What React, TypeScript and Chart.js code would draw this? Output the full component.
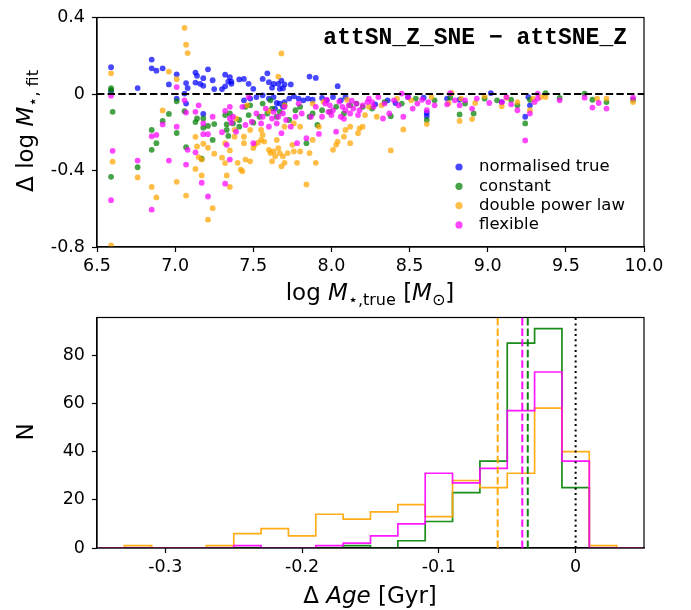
import React, { useEffect, useRef } from 'react';
import { Chart, registerables } from 'chart.js';

Chart.register(...registerables);

// ---------- scatter data: [log M_true, Δ log M_fit] ----------
const normalisedTrue: [number, number][] = [
  [6.59, 0.14], [6.59, 0.015], [6.76, 0.031], [6.85, 0.18], [6.85, 0.134], [6.88, 0.122], [6.92, 0.134],
  [6.96, 0.05], [7.01, 0.103], [7.01, -0.024], [7.07, 0.057], [7.08, 0.031], [7.06, 0.002], [7.07, -0.05],
  [7.13, 0.112], [7.14, 0.095], [7.13, 0.06], [7.16, 0.053], [7.18, 0.083], [7.18, 0.043], [7.21, 0.129],
  [7.24, 0.072], [7.25, 0.026], [7.3, 0.026], [7.32, 0.101], [7.32, 0.04], [7.34, 0.065], [7.36, 0.065],
  [7.36, 0.053], [7.18, -0.104], [7.35, 0.088], [7.41, 0.076], [7.44, 0.079], [7.47, 0.053], [7.5, 0.027],
  [7.56, 0.079], [7.59, 0.108], [7.6, 0.062], [7.62, 0.033], [7.63, 0.053], [7.66, 0.053], [7.67, 0.027],
  [7.68, 0.07], [7.69, 0.03], [7.7, 0.05], [7.74, 0.05], [7.86, 0.091], [7.9, 0.084], [8.04, 0.041],
  [7.44, -0.033], [7.48, -0.024], [7.52, -0.016], [7.56, -0.007], [7.6, -0.024], [7.63, -0.016], [7.65, -0.047],
  [7.67, -0.05], [7.7, -0.042], [7.73, -0.024], [7.76, -0.012], [7.79, -0.024], [7.82, -0.033], [7.85, -0.024],
  [7.88, -0.03], [7.94, -0.021], [7.97, -0.033], [8.01, -0.016], [8.06, -0.033], [8.09, -0.016], [7.64, -0.076],
  [7.69, -0.067], [8.61, -0.098], [8.61, -0.115], [8.28, -0.054], [8.36, -0.033], [8.49, -0.016], [8.59, -0.019],
  [8.74, -0.024], [8.82, -0.03], [9.02, 0.005], [9.09, -0.042], [8.41, -0.047], [9.24, -0.119], [9.26, -0.016],
  [9.27, -0.059],
];

const constantSfh: [number, number][] = [
  [6.59, 0.031], [6.59, 0.02], [6.6, -0.093], [6.59, -0.433], [6.76, -0.383], [6.85, -0.188], [6.85, -0.292],
  [6.88, -0.257], [6.92, -0.141], [6.96, -0.104], [7.01, -0.038], [7.01, -0.204], [7.06, -0.09], [7.07, -0.278],
  [7.13, -0.147], [7.14, -0.128], [7.18, -0.128], [7.18, -0.176], [7.21, -0.167], [7.25, -0.157], [7.24, -0.24],
  [7.17, -0.338], [7.32, -0.11], [7.33, -0.159], [7.35, -0.102], [7.34, -0.219], [7.33, -0.188], [7.37, -0.154],
  [7.41, -0.136], [7.45, -0.067], [7.47, -0.11], [7.5, -0.15], [7.54, -0.119], [7.59, -0.102], [7.62, -0.076],
  [7.65, -0.119], [7.67, -0.093], [7.7, -0.059], [7.73, -0.136], [7.77, -0.085], [7.8, -0.067], [7.84, -0.257],
  [7.86, -0.119], [7.88, -0.102], [7.91, -0.162], [7.94, -0.085], [7.99, -0.093], [8.03, -0.067], [8.08, -0.102],
  [8.12, -0.059], [8.16, -0.05], [8.2, -0.067], [7.56, -0.05], [7.61, -0.033], [7.48, -0.059], [7.41, -0.171],
  [8.38, -0.116], [8.61, -0.136], [8.82, -0.107], [8.91, -0.102], [8.26, -0.076], [8.34, -0.042], [8.45, -0.05],
  [8.54, -0.024], [8.66, -0.033], [8.76, -0.019], [8.855, -0.05], [8.98, -0.024], [9.06, -0.033], [9.15, -0.03],
  [9.19, -0.059], [9.24, -0.154], [9.27, -0.03], [9.37, 0.005], [9.46, -0.021], [9.62, 0.002], [9.67, -0.03],
  [9.76, -0.042], [9.93, -0.03],
];

const doublePowerLaw: [number, number][] = [
  [6.59, 0.108], [6.6, -0.354], [6.59, -0.792], [6.76, -0.436], [6.85, -0.486], [6.88, -0.541], [6.96, 0.117],
  [6.92, -0.086], [7.01, 0.077], [7.01, -0.459], [7.06, 0.346], [7.07, 0.258], [7.08, 0.214], [7.07, -0.531],
  [7.13, -0.224], [7.14, -0.274], [7.13, -0.392], [7.17, -0.426], [7.18, -0.26], [7.15, -0.33], [7.17, -0.343],
  [7.21, -0.281], [7.21, -0.657], [7.24, -0.597], [7.25, -0.312], [7.3, -0.333], [7.32, -0.257], [7.32, -0.361],
  [7.33, -0.426], [7.35, -0.295], [7.35, -0.486], [7.38, -0.188], [7.68, 0.212], [7.66, 0.091], [7.38, -0.223],
  [7.4, -0.36], [7.42, -0.395], [7.43, -0.404], [7.44, -0.257], [7.45, -0.343], [7.48, -0.352], [7.44, -0.223],
  [7.5, -0.283], [7.51, -0.266], [7.53, -0.254], [7.55, -0.24], [7.56, -0.214], [7.57, -0.249], [7.6, -0.292],
  [7.61, -0.309], [7.62, -0.352], [7.63, -0.3], [7.64, -0.326], [7.65, -0.24], [7.66, -0.283], [7.67, -0.309],
  [7.68, -0.378], [7.69, -0.326], [7.7, -0.36], [7.72, -0.309], [7.75, -0.266], [7.76, -0.3], [7.78, -0.36],
  [7.8, -0.3], [7.84, -0.473], [7.86, -0.309], [7.9, -0.36], [7.92, -0.171], [7.88, -0.24], [8.01, -0.292],
  [8.03, -0.266], [8.04, -0.249], [8.08, -0.223], [8.09, -0.188], [8.12, -0.257], [8.17, -0.205], [8.18, -0.18],
  [8.2, -0.171], [8.12, -0.171], [7.55, -0.188], [7.7, -0.171], [7.76, -0.154], [7.8, -0.171], [7.48, -0.188],
  [7.39, -0.128], [7.46, -0.059], [7.7, -0.06], [7.88, -0.05], [7.6, -0.09], [7.95, -0.04], [8.1, -0.03],
  [8.215, -0.11], [8.29, -0.119], [8.38, -0.295], [8.46, -0.185], [8.61, -0.157], [8.82, -0.141], [8.9, -0.131],
  [8.24, -0.067], [8.32, -0.059], [8.42, -0.024], [8.51, -0.033], [8.64, -0.016], [8.75, -0.047], [8.83, -0.024],
  [8.92, -0.047], [8.98, -0.012], [8.77, 0.005], [9.09, -0.064], [9.12, -0.02], [9.19, -0.042], [9.27, -0.085],
  [9.29, -0.024], [9.34, -0.016], [9.37, -0.016], [9.7, -0.024], [9.76, -0.024], [9.93, -0.042],
];

const flexibleSfh: [number, number][] = [
  [6.59, -0.009], [6.6, -0.297], [6.59, -0.555], [6.76, -0.348], [6.85, -0.221], [6.88, -0.214], [6.85, -0.605],
  [6.92, -0.159], [6.96, -0.348], [7.01, 0.036], [7.01, -0.171], [7.06, -0.033], [7.08, -0.292], [7.07, -0.369],
  [7.07, -0.097], [7.13, -0.093], [7.15, -0.059], [7.13, -0.305], [7.17, -0.464], [7.18, -0.154], [7.18, -0.21],
  [7.21, -0.21], [7.24, -0.119], [7.21, -0.536], [7.3, -0.2], [7.32, -0.088], [7.33, -0.266], [7.32, -0.469],
  [7.35, -0.128], [7.36, -0.15], [7.35, -0.067], [7.37, -0.119], [7.39, -0.197], [7.43, -0.067], [7.45, -0.162],
  [7.47, -0.016], [7.49, -0.145], [7.5, -0.257], [7.52, -0.102], [7.55, -0.154], [7.56, -0.119], [7.58, -0.076],
  [7.6, -0.171], [7.62, -0.128], [7.63, -0.093], [7.65, -0.154], [7.66, -0.119], [7.68, -0.205], [7.69, -0.102],
  [7.7, -0.067], [7.71, -0.136], [7.74, -0.171], [7.77, -0.119], [7.78, -0.257], [7.79, -0.05], [7.81, -0.102],
  [7.84, -0.231], [7.87, -0.119], [7.9, -0.067], [7.92, -0.209], [7.94, -0.119], [7.96, -0.05], [7.98, -0.093],
  [7.99, -0.059], [8.01, -0.085], [8.03, -0.197], [8.06, -0.119], [8.07, -0.067], [8.09, -0.085], [8.11, -0.059],
  [8.12, -0.102], [8.14, -0.076], [8.16, -0.05], [8.18, -0.085], [8.2, -0.059], [8.23, -0.042], [7.35, -0.343],
  [7.97, -0.03], [8.0, -0.11], [8.05, -0.04], [8.08, -0.13], [8.13, -0.035], [8.17, -0.11],
  [8.24, -0.024], [8.27, -0.067], [8.3, -0.016], [8.33, -0.128], [8.34, -0.05], [8.37, -0.102], [8.4, -0.033],
  [8.43, -0.059], [8.45, 0.002], [8.46, -0.119], [8.49, -0.016], [8.52, -0.076], [8.55, -0.05], [8.58, -0.03],
  [8.61, -0.085], [8.62, -0.042], [8.66, -0.059], [8.74, -0.054], [8.76, 0.005], [8.79, -0.033], [8.82, -0.059],
  [8.855, -0.033], [8.9, -0.076], [8.93, -0.024], [9.01, -0.047], [8.26, -0.042], [9.09, -0.042], [9.12, -0.016],
  [9.15, -0.054], [9.19, -0.085], [9.24, -0.243], [9.27, -0.102], [9.3, -0.042], [9.32, -0.024], [9.32, 0.002],
  [9.46, -0.033], [9.62, -0.019], [9.67, -0.071], [9.71, -0.047], [9.76, -0.076], [9.93, -0.019],
];

const massTicks = [6.5, 7.0, 7.5, 8.0, 8.5, 9.0, 9.5, 10.0];
const deltaMassTicks = [-0.8, -0.4, 0, 0.4];

// ---------- histogram data: Δ Age ----------
const ageBinEdges = [
  -0.33, -0.31, -0.29, -0.27, -0.25, -0.23, -0.21, -0.19, -0.17, -0.15,
  -0.13, -0.11, -0.09, -0.07, -0.05, -0.03, -0.01, 0.01, 0.03,
];
const constantCounts = [0, 0, 0, 0, 0, 0, 0, 0, 1, 0, 3, 11, 23, 36, 85, 91, 25, 0];
const dplCounts = [1, 0, 0, 1, 6, 8, 5, 14, 12, 15, 18, 13, 28, 25, 31, 58, 40, 1];
const flexibleCounts = [0, 0, 0, 0, 1, 0, 0, 1, 2, 5, 10, 31, 27, 33, 57, 73, 36, 0];
const meanConstant = -0.035;
const meanDpl = -0.057;
const meanFlexible = -0.039;
const trueReference = 0;
const ageTicks = [-0.3, -0.2, -0.1, 0];
const countTicks = [0, 20, 40, 60, 80];

const legendLabels = ['normalised true', 'constant', 'double power law', 'flexible'];

const BLUE = 'rgba(0,0,255,0.72)';
const GREEN = 'rgba(0,128,0,0.72)';
const ORANGE = 'rgba(255,165,0,0.72)';
const MAGENTA = 'rgba(255,0,255,0.72)';
const SERIES_COLORS = [BLUE, GREEN, ORANGE, MAGENTA];

const FAM = '"DejaVu Sans"';
const TICK_FONT = { family: 'DejaVu Sans', size: 17.5 };
const LABEL = `23px ${FAM}`;
const LABEL_I = `italic 23px ${FAM}`;
const SUB = `16px ${FAM}`;

type Run = { t: string; font: string; dy?: number };
function drawRuns(ctx: CanvasRenderingContext2D, runs: Run[], x: number, y: number, rotate = false) {
  ctx.save();
  ctx.translate(x, y);
  if (rotate) ctx.rotate(-Math.PI / 2);
  let total = 0;
  for (const r of runs) {
    ctx.font = r.font;
    total += ctx.measureText(r.t).width;
  }
  let cx = -total / 2;
  ctx.textAlign = 'left';
  ctx.textBaseline = 'alphabetic';
  ctx.fillStyle = '#000';
  for (const r of runs) {
    ctx.font = r.font;
    ctx.fillText(r.t, cx, r.dy || 0);
    cx += ctx.measureText(r.t).width;
  }
  ctx.restore();
}

function fmtTick(v: number) {
  const r = Math.round(v * 1000) / 1000;
  if (r === 0) return '0';
  return r.toFixed(1);
}

function axisCommon(ticks: number[], fmt: (v: number) => string, pad: number) {
  return {
    type: 'linear' as const,
    afterBuildTicks: (s: any) => {
      s.ticks = ticks.map((v) => ({ value: v }));
    },
    ticks: {
      font: TICK_FONT,
      color: '#000',
      padding: pad,
      autoSkip: false,
      maxRotation: 0,
      callback: (v: any) => fmt(Number(v)),
    },
    grid: {
      display: true,
      drawOnChartArea: false,
      drawTicks: true,
      tickLength: 5,
      tickWidth: 1.2,
      tickColor: '#000',
    },
    border: { display: true, color: '#000', width: 1.2 },
  };
}

const boxPlugin = {
  id: 'box',
  afterDatasetsDraw(chart: any) {
    const { ctx, chartArea: a } = chart;
    ctx.save();
    ctx.strokeStyle = '#000';
    ctx.lineWidth = 1.2;
    ctx.strokeRect(a.left, a.top, a.right - a.left, a.bottom - a.top);
    ctx.restore();
  },
};

export default function App() {
  const topRef = useRef<HTMLCanvasElement>(null);
  const botRef = useRef<HTMLCanvasElement>(null);

  useEffect(() => {
    const seriesList = [normalisedTrue, constantSfh, doublePowerLaw, flexibleSfh];

    const topPlugin = {
      id: 'topDecor',
      afterDatasetsDraw(chart: any) {
        const { ctx, chartArea: a, scales } = chart;
        const y0 = scales.y.getPixelForValue(0);
        ctx.save();
        ctx.strokeStyle = '#000';
        ctx.lineWidth = 2;
        ctx.setLineDash([7.4, 3.2]);
        ctx.beginPath();
        ctx.moveTo(a.left, y0);
        ctx.lineTo(a.right, y0);
        ctx.stroke();
        ctx.setLineDash([]);
        // title
        ctx.font = `bold 23px "Liberation Mono"`;
        ctx.fillStyle = '#000';
        ctx.textAlign = 'right';
        ctx.textBaseline = 'alphabetic';
        ctx.fillText('attSN_Z_SNE \u2212 attSNE_Z', 627, 44);
        // legend
        ctx.textAlign = 'left';
        ctx.textBaseline = 'middle';
        ctx.font = `16.5px ${FAM}`;
        legendLabels.forEach((lab, i) => {
          const yy = 167 + i * 19.3;
          ctx.fillStyle = SERIES_COLORS[i];
          ctx.beginPath();
          ctx.arc(459, yy, 3.6, 0, Math.PI * 2);
          ctx.fill();
          ctx.fillStyle = '#000';
          ctx.fillText(lab, 479, yy);
        });
        ctx.restore();
      },
      afterDraw(chart: any) {
        const ctx = chart.ctx;
        drawRuns(ctx, [
          { t: 'log ', font: LABEL },
          { t: 'M', font: LABEL_I },
          { t: '\u22c6,true', font: SUB, dy: 5 },
          { t: ' [', font: LABEL },
          { t: 'M', font: LABEL_I },
          { t: '\u2299', font: SUB, dy: 5 },
          { t: ']', font: LABEL },
        ], 370, 300);
        drawRuns(ctx, [
          { t: '\u0394 log ', font: LABEL },
          { t: 'M', font: LABEL_I },
          { t: '\u22c6, fit', font: SUB, dy: 5 },
        ], 33, 131, true);
      },
    };

    const c1 = new Chart(topRef.current as HTMLCanvasElement, {
      type: 'scatter',
      data: {
        datasets: seriesList.map((s, i) => ({
          label: legendLabels[i],
          data: s.map(([x, y]) => ({ x, y })),
          backgroundColor: SERIES_COLORS[i],
          borderWidth: 0,
          pointRadius: 2.9,
          order: 4 - i,
        })),
      },
      options: {
        animation: false,
        responsive: false,
        devicePixelRatio: 1,
        layout: { padding: { left: 0, right: 47, top: 15, bottom: 0 } },
        plugins: { legend: { display: false }, tooltip: { enabled: false } },
        scales: {
          x: {
            ...axisCommon(massTicks, (v) => v.toFixed(1), 4),
            min: 6.5,
            max: 10,
            afterFit: (s: any) => {
              s.height = 73;
            },
          },
          y: {
            ...axisCommon(deltaMassTicks, fmtTick, 7),
            min: -0.8,
            max: 0.4,
            afterFit: (s: any) => {
              s.width = 97;
            },
          },
        },
      } as any,
      plugins: [boxPlugin, topPlugin],
    });

    const stepPoints = (counts: number[]) => {
      const pts = [{ x: -0.4, y: 0 }];
      counts.forEach((c, i) => pts.push({ x: ageBinEdges[i], y: c }));
      pts.push({ x: ageBinEdges[counts.length], y: 0 });
      pts.push({ x: 0.1, y: 0 });
      return pts;
    };

    const histSeries = [
      { label: 'constant', counts: constantCounts, color: 'rgba(0,128,0,0.9)', order: 3 },
      { label: 'double power law', counts: dplCounts, color: 'rgba(255,165,0,0.9)', order: 2 },
      { label: 'flexible', counts: flexibleCounts, color: 'rgba(255,0,255,0.9)', order: 1 },
    ];

    const botPlugin = {
      id: 'botDecor',
      afterDatasetsDraw(chart: any) {
        const { ctx, chartArea: a, scales } = chart;
        const lines = [
          { v: meanDpl, c: 'rgba(255,165,0,0.95)', d: [7.4, 3.2] },
          { v: meanFlexible, c: 'rgba(255,0,255,0.95)', d: [7.4, 3.2] },
          { v: meanConstant, c: 'rgba(0,128,0,0.95)', d: [7.4, 3.2] },
          { v: trueReference, c: '#000', d: [2, 3.3] },
        ];
        ctx.save();
        ctx.lineWidth = 2;
        for (const l of lines) {
          const x = scales.x.getPixelForValue(l.v);
          ctx.strokeStyle = l.c;
          ctx.setLineDash(l.d);
          ctx.beginPath();
          ctx.moveTo(x, a.bottom);
          ctx.lineTo(x, a.top);
          ctx.stroke();
        }
        ctx.restore();
      },
      afterDraw(chart: any) {
        const ctx = chart.ctx;
        drawRuns(ctx, [
          { t: '\u0394 ', font: LABEL },
          { t: 'Age', font: LABEL_I },
          { t: ' [Gyr]', font: LABEL },
        ], 370, 303);
        drawRuns(ctx, [{ t: 'N', font: LABEL }], 33, 132, true);
      },
    };

    const c2 = new Chart(botRef.current as HTMLCanvasElement, {
      type: 'line',
      data: {
        datasets: histSeries.map((h) => ({
          label: h.label,
          data: stepPoints(h.counts),
          borderColor: h.color,
          backgroundColor: h.color,
          borderWidth: 1.7,
          pointRadius: 0,
          fill: false,
          stepped: true,
          order: h.order,
        })),
      },
      options: {
        animation: false,
        responsive: false,
        devicePixelRatio: 1,
        layout: { padding: { left: 0, right: 47, top: 16, bottom: 0 } },
        plugins: { legend: { display: false }, tooltip: { enabled: false } },
        scales: {
          x: {
            ...axisCommon(ageTicks, fmtTick, 4),
            min: -0.35,
            max: 0.05,
            afterFit: (s: any) => {
              s.height = 62;
            },
          },
          y: {
            ...axisCommon(countTicks, (v) => String(Math.round(v)), 7),
            min: 0,
            max: 95.6,
            afterFit: (s: any) => {
              s.width = 97;
            },
          },
        },
      } as any,
      plugins: [boxPlugin, botPlugin],
    });

    return () => {
      c1.destroy();
      c2.destroy();
    };
  }, []);

  return (
    <div style={{ position: 'absolute', left: 0, top: 0, width: 691, height: 610, background: '#fff' }}>
      <canvas ref={topRef} width={691} height={320} style={{ position: 'absolute', left: 0, top: 0 }} />
      <canvas ref={botRef} width={691} height={310} style={{ position: 'absolute', left: 0, top: 300 }} />
    </div>
  );
}
